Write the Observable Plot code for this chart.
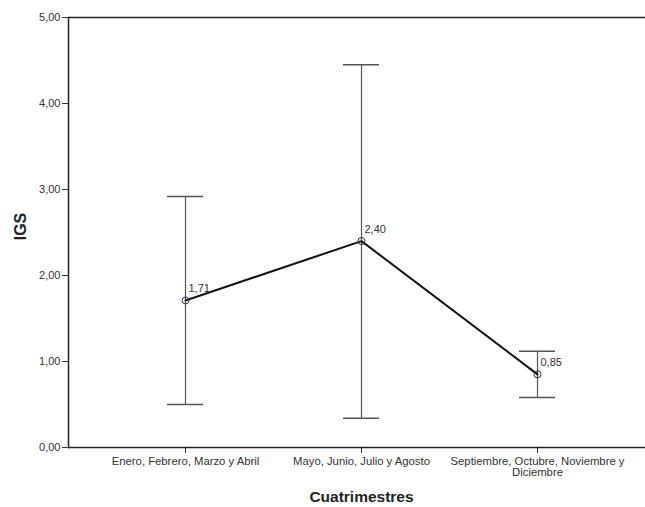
<!DOCTYPE html>
<html>
<head>
<meta charset="utf-8">
<script src="https://cdn.jsdelivr.net/npm/d3@7"></script>
<script src="https://cdn.jsdelivr.net/npm/@observablehq/plot@0.6"></script>
<style>
  html, body { margin: 0; padding: 0; background: #fff; }
  #chart svg { display: block; }
</style>
</head>
<body>
<div id="chart"></div>
<script>
const categories = [
  "Enero, Febrero, Marzo y Abril",
  "Mayo, Junio, Julio y Agosto",
  "Septiembre, Octubre, Noviembre y Diciembre"
];
const means = [1.71, 2.40, 0.85];
const lower = [0.50, 0.34, 0.58];
const upper = [2.92, 4.45, 1.12];
const yTicks = [0, 1, 2, 3, 4, 5];

const data = categories.map((c, i) => ({cat: c, mean: means[i], lo: lower[i], hi: upper[i]}));
const fmt = v => d3.format(".2f")(v).replace(".", ",");
const font = "Liberation Sans, Arial, sans-serif";

const chart = Plot.plot({
  width: 645,
  height: 507,
  marginTop: 17,
  marginBottom: 60,
  marginLeft: 68,
  marginRight: 0,
  style: {fontFamily: font, background: "#fff", color: "#333"},
  x: {type: "band", domain: categories, range: [97, 625], padding: 0},
  y: {domain: [0, 5]},
  marks: [
    Plot.ruleY([0, 5], {stroke: "#222", strokeWidth: 1.5}),
    Plot.frame({anchor: "left", stroke: "#222", strokeWidth: 1.5}),
    Plot.axisY({ticks: yTicks, tickFormat: fmt, tickSize: 6, tickPadding: 2, fontSize: 11, label: null, stroke: "#333"}),
    Plot.axisX({tickSize: 6, tickPadding: 3, fontSize: 11.3, label: null, stroke: "#333",
      tickFormat: d => d.replace("Noviembre y ", "Noviembre y\n")}),
    Plot.ruleX(data, {x: "cat", y1: "lo", y2: "hi", stroke: "#555", strokeWidth: 1.2}),
    Plot.tickY(data, {x: "cat", y: "lo", stroke: "#555", strokeWidth: 1.5, insetLeft: 70, insetRight: 70}),
    Plot.tickY(data, {x: "cat", y: "hi", stroke: "#555", strokeWidth: 1.5, insetLeft: 70, insetRight: 70}),
    Plot.line(data, {x: "cat", y: "mean", stroke: "#111", strokeWidth: 2}),
    Plot.dot(data, {x: "cat", y: "mean", r: 3.5, stroke: "#333", fill: "none", strokeWidth: 1}),
    Plot.text(data, {x: "cat", y: "mean", text: d => fmt(d.mean), dx: 3, dy: -12, textAnchor: "start", fontSize: 11, fill: "#333"}),
    Plot.text(["IGS"], {frameAnchor: "left", textAnchor: "middle", dx: -48, dy: -6, rotate: -90, fontSize: 16, fontWeight: "bold", fill: "#222"}),
    Plot.text(["Cuatrimestres"], {x: () => categories[1], y: () => 0, dy: 50, fontSize: 15.5, fontWeight: "bold", fill: "#222"})
  ]
});
document.getElementById("chart").appendChild(chart);
</script>
</body>
</html>
